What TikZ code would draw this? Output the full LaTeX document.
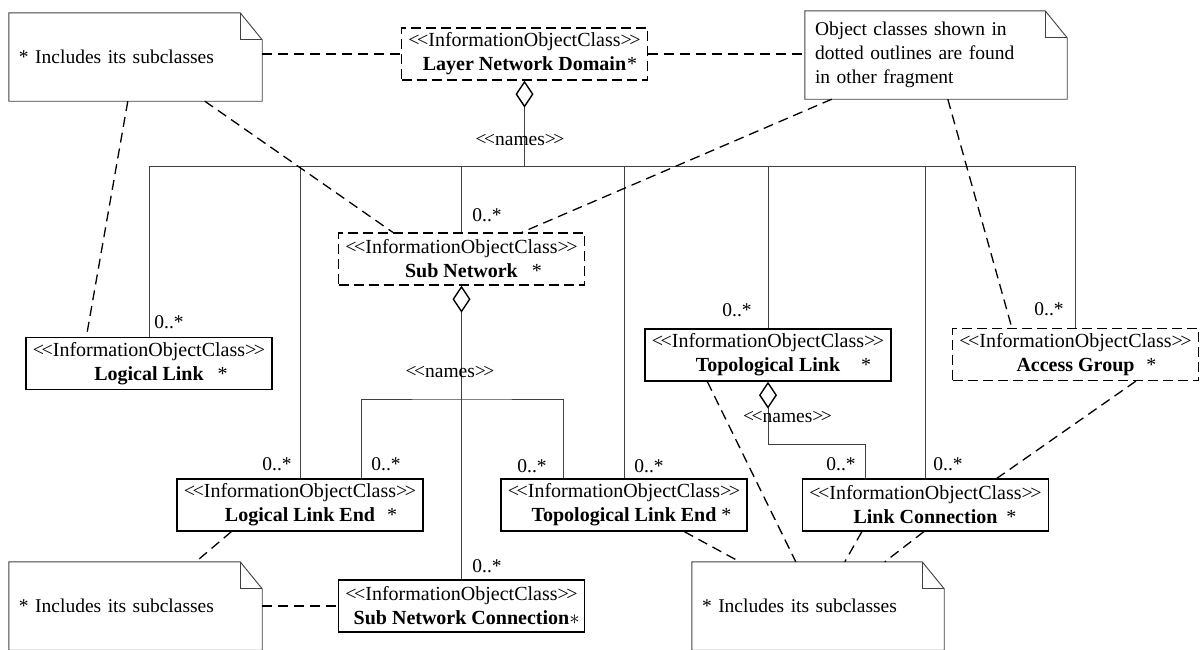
\documentclass[tikz,border=0pt]{standalone}
\usepackage{fontspec}
\setmainfont{Liberation Serif}
\usetikzlibrary{arrows.meta}

% stereotype line used in every class box
\newcommand\ioc{\textless\kern-2.5pt\textless InformationObjectClass\textgreater\kern-2.5pt\textgreater}
\newcommand\stname{\textless\kern-2.5pt\textless names\textgreater\kern-2.5pt\textgreater}
% class name, centred, with a hanging star after a gap
\newcommand\cname[2]{\textbf{#1}\rlap{\hspace{#2}*}}
% UML note outline with folded corner
\newcommand\drawnote[1]{%
  \draw[notedraw] (#1.north west) -- ([xshift=-22pt]#1.north east)
    -- ([yshift=-27pt]#1.north east) -- (#1.south east) -- (#1.south west) -- cycle;
  \draw[notedraw] ([xshift=-22pt]#1.north east) |- ([yshift=-27pt]#1.north east);}

\begin{document}
\begin{tikzpicture}[x=1pt,y=-1pt,
  every node/.style={font=\fontsize{19.5}{24}\selectfont},
  cls/.style={draw, line width=1.3pt, minimum width=246pt, minimum height=52pt,
    inner sep=0pt, align=center, font=\fontsize{20}{24}\selectfont},
  ext/.style={cls, dash pattern=on 10pt off 5pt},
  notebox/.style={inner sep=0pt, inner xsep=10pt, minimum height=88pt,
    align=left, text width=#1},
  notedraw/.style={line width=0.9pt, draw=black!75},
  link/.style={line width=0.9pt, draw=black!75},
  agg/.style={link, {Diamond[open, length=27pt, width=18pt, line width=1.4pt, black]}-},
  noteline/.style={line width=1.3pt, dash pattern=on 10pt off 6pt},
  mult/.style={inner sep=0pt},
  lbl/.style={inner sep=0pt}
]
\useasboundingbox (0,0) rectangle (1202,649);
\clip (0,0) rectangle (1202,649);

% class boxes
\node[ext] (lnd) at (524.5,54)  {\ioc\\\cname{Layer Network Domain}{1pt}};
\node[ext] (sn)  at (461.5,259) {\ioc\\\cname{Sub Network}{14pt}};
\node[cls] (ll)  at (149,363.5) {\ioc\\\cname{Logical Link}{14pt}};
\node[cls] (tl)  at (768,355)   {\ioc\\\cname{Topological Link}{21pt}};
\node[ext] (ag)  at (1075.5,354.5) {\ioc\\\cname{Access Group}{12pt}};
\node[cls] (lle) at (300,505)   {\ioc\\\cname{Logical Link End}{12pt}};
\node[cls] (tle) at (624,505)   {\ioc\\\cname{Topological Link End}{5pt}};
\node[cls] (lc)  at (925.5,505) {\ioc\\\cname{Link Connection}{9pt}};
\node[cls] (snc) at (461.5,606) {\ioc\\\textbf{Sub Network Connection}\rlap{$\ast$}};

% notes
\node[notebox=233pt] (ntl) at (135.5,57) {* Includes its subclasses};
\node[notebox=242pt] (ntr) at (936,55)
  {Object classes shown in\\dotted outlines are found\\in other fragment};
\node[notebox=233pt] (nbl) at (135.5,606) {* Includes its subclasses};
\node[notebox=232pt] (nbr) at (818,606) {* Includes its subclasses};
\drawnote{ntl}
\drawnote{ntr}
\drawnote{nbl}
\drawnote{nbr}

% names aggregation from Layer Network Domain, shared bus
\coordinate (bus) at (524.5,166);
\draw[agg] (lnd.south) -- (lnd.south |- bus);
\draw[link] (ll.north) -- (ll.north |- bus) -- (ag.north |- bus) -- (ag.north);
\draw[link] (lle.north) -- (lle.north |- bus);
\draw[link] (sn.north) -- (sn.north |- bus);
\draw[link] (tle.north) -- (tle.north |- bus);
\draw[link] (tl.north) -- (tl.north |- bus);
\draw[link] (lc.north) -- (lc.north |- bus);
\node[lbl] (n1) at (520,140) {\stname};

% names aggregation from Sub Network
\coordinate (nb) at (461.5,399);
\draw[agg] (sn.south) -- (snc.north);
\draw[link] ([xshift=61pt]lle.north) |- (nb) -| ([xshift=-61pt]tle.north);
\node[lbl] (n2) at (450,372) {\stname};

% names aggregation from Topological Link
\coordinate (tlb) at (865,444);
\draw[agg] (tl.south) |- (tlb) -- ([xshift=-60.5pt]lc.north);
\node[lbl] (n3) at (787.5,417) {\stname};

% multiplicities
\node[mult] (m1)  at (169,322)  {0..*};
\node[mult] (m2)  at (487,215)  {0..*};
\node[mult] (m3)  at (277,464)  {0..*};
\node[mult] (m4)  at (386,464)  {0..*};
\node[mult] (m5)  at (532,466)  {0..*};
\node[mult] (m6)  at (649,466)  {0..*};
\node[mult] (m7)  at (487,566)  {0..*};
\node[mult] (m8)  at (737,310)  {0..*};
\node[mult] (m9)  at (841,464)  {0..*};
\node[mult] (m10) at (948,464)  {0..*};
\node[mult] (m11) at (1049,309) {0..*};

% note anchors
\draw[noteline] (ntl.east |- lnd.west) -- (lnd.west);
\draw[noteline] (lnd.east) -- (ntr.west |- lnd.east);
\draw[noteline] ([xshift=119pt]ntl.south west) -- ([xshift=61pt]ll.north west);
\draw[noteline] ([xshift=196pt]ntl.south west) -- ([xshift=55pt]sn.north west);
\draw[noteline] ([xshift=27pt]ntr.south west) -- ([xshift=184pt]sn.north west);
\draw[noteline] ([xshift=143pt]ntr.south west) -- ([xshift=60pt]ag.north west);
\draw[noteline] ([xshift=184pt]ag.south west) -- ([xshift=195pt]lc.north west);
\draw[noteline] ([xshift=63pt]tl.south west) -- ([xshift=104pt]nbr.north west);
\draw[noteline] ([xshift=184pt]tle.south west) -- ([xshift=48pt]nbr.north west);
\draw[noteline] ([xshift=60pt]lc.south west) -- ([xshift=153pt]nbr.north west);
\draw[noteline] ([xshift=122pt]lc.south west) -- ([xshift=193pt]nbr.north west);
\draw[noteline] ([xshift=55pt]lle.south west) -- ([xshift=187pt]nbl.north west);
\draw[noteline] (nbl.east |- snc.west) -- (snc.west);
\end{tikzpicture}
\end{document}
